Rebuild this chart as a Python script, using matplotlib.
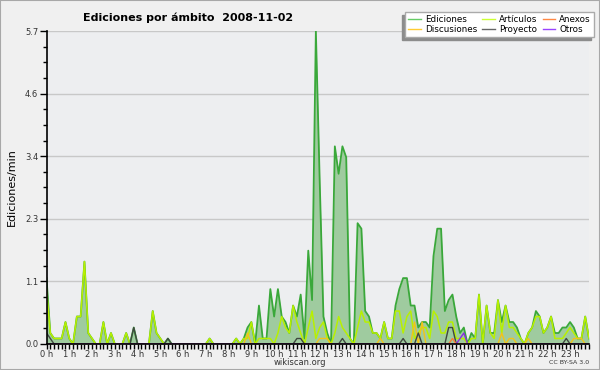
import numpy as np
import matplotlib.pyplot as plt
from matplotlib.lines import Line2D
from matplotlib.patches import Rectangle

# edits per minute, one value every 10 minutes (2 hours per row)
ediciones = [
    1.2, 0.2, 0.1, 0.1, 0.1, 0.4, 0.1, 0.0, 0.5, 0.5, 1.5, 0.2,
    0.1, 0.0, 0.0, 0.4, 0.0, 0.2, 0.0, 0.0, 0.0, 0.2, 0.0, 0.3,
    0.0, 0.0, 0.0, 0.0, 0.6, 0.2, 0.1, 0.0, 0.1, 0.0, 0.0, 0.0,
    0.0, 0.0, 0.0, 0.0, 0.0, 0.0, 0.0, 0.1, 0.0, 0.0, 0.0, 0.0,
    0.0, 0.0, 0.1, 0.0, 0.1, 0.3, 0.4, 0.0, 0.7, 0.1, 0.1, 1.0,
    0.5, 1.0, 0.5, 0.4, 0.2, 0.7, 0.5, 0.9, 0.1, 1.7, 0.8, 5.7,
    3.0, 0.5, 0.2, 0.0, 3.6, 3.1, 3.6, 3.4, 0.1, 0.0, 2.2, 2.1,
    0.6, 0.5, 0.2, 0.2, 0.1, 0.4, 0.1, 0.1, 0.7, 1.0, 1.2, 1.2,
    0.7, 0.7, 0.3, 0.4, 0.4, 0.3, 1.6, 2.1, 2.1, 0.6, 0.8, 0.9,
    0.5, 0.2, 0.3, 0.0, 0.2, 0.1, 0.9, 0.0, 0.7, 0.2, 0.2, 0.8,
    0.4, 0.7, 0.4, 0.4, 0.3, 0.1, 0.0, 0.2, 0.3, 0.6, 0.5, 0.2,
    0.3, 0.5, 0.2, 0.2, 0.3, 0.3, 0.4, 0.3, 0.1, 0.1, 0.5, 0.1,
]
articulos = [
    1.0, 0.2, 0.1, 0.1, 0.1, 0.4, 0.1, 0.0, 0.5, 0.5, 1.5, 0.2,
    0.1, 0.0, 0.0, 0.4, 0.0, 0.2, 0.0, 0.0, 0.0, 0.2, 0.0, 0.0,
    0.0, 0.0, 0.0, 0.0, 0.6, 0.2, 0.1, 0.0, 0.0, 0.0, 0.0, 0.0,
    0.0, 0.0, 0.0, 0.0, 0.0, 0.0, 0.0, 0.1, 0.0, 0.0, 0.0, 0.0,
    0.0, 0.0, 0.1, 0.0, 0.1, 0.1, 0.4, 0.0, 0.1, 0.1, 0.1, 0.1,
    0.0, 0.2, 0.5, 0.3, 0.2, 0.7, 0.4, 0.2, 0.0, 0.3, 0.6, 0.1,
    0.3, 0.4, 0.1, 0.0, 0.2, 0.5, 0.3, 0.2, 0.1, 0.0, 0.3, 0.6,
    0.4, 0.4, 0.2, 0.2, 0.1, 0.4, 0.1, 0.1, 0.6, 0.6, 0.2, 0.5,
    0.6, 0.1, 0.2, 0.3, 0.3, 0.1, 0.6, 0.5, 0.2, 0.2, 0.4, 0.4,
    0.1, 0.1, 0.1, 0.0, 0.1, 0.1, 0.9, 0.0, 0.7, 0.2, 0.1, 0.8,
    0.2, 0.7, 0.3, 0.3, 0.2, 0.1, 0.0, 0.2, 0.3, 0.5, 0.5, 0.2,
    0.3, 0.5, 0.1, 0.1, 0.1, 0.2, 0.3, 0.2, 0.1, 0.1, 0.5, 0.1,
]
discusiones = [
    0.0, 0.0, 0.0, 0.0, 0.0, 0.0, 0.0, 0.0, 0.0, 0.0, 0.0, 0.0,
    0.0, 0.0, 0.0, 0.0, 0.0, 0.0, 0.0, 0.0, 0.0, 0.0, 0.0, 0.0,
    0.0, 0.0, 0.0, 0.0, 0.0, 0.0, 0.0, 0.0, 0.0, 0.0, 0.0, 0.0,
    0.0, 0.0, 0.0, 0.0, 0.0, 0.0, 0.0, 0.0, 0.0, 0.0, 0.0, 0.0,
    0.0, 0.0, 0.0, 0.0, 0.0, 0.2, 0.0, 0.0, 0.0, 0.0, 0.0, 0.0,
    0.0, 0.0, 0.0, 0.0, 0.0, 0.0, 0.0, 0.0, 0.0, 0.0, 0.0, 0.0,
    0.1, 0.1, 0.1, 0.0, 0.0, 0.0, 0.0, 0.0, 0.0, 0.0, 0.0, 0.0,
    0.0, 0.0, 0.0, 0.0, 0.1, 0.0, 0.0, 0.0, 0.0, 0.0, 0.0, 0.0,
    0.0, 0.4, 0.0, 0.4, 0.0, 0.0, 0.0, 0.0, 0.0, 0.0, 0.0, 0.0,
    0.0, 0.0, 0.0, 0.0, 0.0, 0.0, 0.0, 0.0, 0.0, 0.0, 0.0, 0.0,
    0.2, 0.0, 0.1, 0.1, 0.0, 0.0, 0.0, 0.1, 0.0, 0.0, 0.0, 0.0,
    0.0, 0.0, 0.0, 0.0, 0.0, 0.0, 0.0, 0.1, 0.1, 0.1, 0.0, 0.0,
]
proyecto = [
    0.2, 0.1, 0.0, 0.0, 0.0, 0.0, 0.0, 0.0, 0.0, 0.0, 0.0, 0.0,
    0.0, 0.0, 0.0, 0.0, 0.0, 0.0, 0.0, 0.0, 0.0, 0.0, 0.0, 0.3,
    0.0, 0.0, 0.0, 0.0, 0.0, 0.0, 0.0, 0.0, 0.1, 0.0, 0.0, 0.0,
    0.0, 0.0, 0.0, 0.0, 0.0, 0.0, 0.0, 0.0, 0.0, 0.0, 0.0, 0.0,
    0.0, 0.0, 0.0, 0.0, 0.0, 0.0, 0.0, 0.0, 0.0, 0.0, 0.0, 0.0,
    0.0, 0.0, 0.0, 0.0, 0.0, 0.0, 0.1, 0.1, 0.0, 0.0, 0.0, 0.0,
    0.0, 0.0, 0.0, 0.0, 0.0, 0.0, 0.1, 0.0, 0.0, 0.0, 0.0, 0.0,
    0.0, 0.0, 0.0, 0.0, 0.0, 0.0, 0.0, 0.0, 0.0, 0.0, 0.1, 0.0,
    0.0, 0.0, 0.2, 0.0, 0.0, 0.0, 0.0, 0.0, 0.0, 0.0, 0.3, 0.3,
    0.0, 0.0, 0.0, 0.0, 0.0, 0.0, 0.0, 0.0, 0.0, 0.0, 0.0, 0.0,
    0.0, 0.0, 0.0, 0.0, 0.0, 0.0, 0.0, 0.0, 0.0, 0.0, 0.0, 0.0,
    0.0, 0.0, 0.0, 0.0, 0.0, 0.1, 0.0, 0.0, 0.0, 0.0, 0.0, 0.0,
]
anexos = [0.0] * 144
anexos[107] = 0.1
otros = [0.0] * 144
otros[109] = 0.1
otros[110] = 0.2

hour_labels = [f"{h} h" for h in range(24)]
ytick_vals = [0.0, 1.14, 2.28, 3.42, 4.56, 5.7]
ytick_labels = ["0.0", "1.1", "2.3", "3.4", "4.6", "5.7"]

x = np.arange(len(ediciones))

fig = plt.figure(figsize=(6, 3.7), dpi=100, facecolor="#f0f0f0")
fig.patches.append(Rectangle((0, 0), 1, 1, transform=fig.transFigure,
                             fill=False, edgecolor="#a8a8a8", lw=1.5))
ax = fig.add_axes([0.0775, 0.0703, 0.9042, 0.8459])
ax.set_facecolor("#edeef0")

ax.fill_between(x, ediciones, color="#9fcb9f", lw=0, zorder=2)
ax.plot(x, ediciones, color="#3aa83a", lw=1.3, zorder=3)
ax.plot(x, articulos, color="#b8f000", lw=1.1, zorder=4)
ax.plot(x, discusiones, color="#f2c418", lw=1, zorder=5)
ax.plot(x, proyecto, color="#404840", lw=1, zorder=6)
ax.plot(x, anexos, color="#ff7a33", lw=1, zorder=7)
ax.plot(x, otros, color="#8a2be2", lw=1, zorder=8)

ax.set_xlim(0, len(ediciones) - 1)
ax.set_ylim(0, 5.7)
ax.set_xticks(np.arange(0, 144, 6))
ax.set_xticklabels(hour_labels)
ax.set_xticks(np.arange(0, 144, 1), minor=True)
ax.set_yticks(ytick_vals)
ax.set_yticklabels(ytick_labels)
ax.set_yticks(np.arange(0, 5.71, 0.285), minor=True)
ax.tick_params(axis="both", which="both", direction="out", color="black",
               labelsize=6, labelcolor="#333333", width=1)
ax.tick_params(axis="x", which="both", length=3.5, pad=0.5)
ax.tick_params(axis="y", which="major", length=5, pad=1)
ax.tick_params(axis="y", which="minor", length=3)
for s in ["top", "right"]:
    ax.spines[s].set_visible(False)
for s in ["left", "bottom"]:
    ax.spines[s].set_linewidth(1.2)
    ax.spines[s].set_zorder(10)
for v in ytick_vals[1:]:
    ax.axhline(v, color="#c8c8c8", lw=1, zorder=1)

ax.set_ylabel("Ediciones/min", fontsize=8, labelpad=6)
fig.text(0.313, 0.952, "Ediciones por ámbito  2008-11-02", ha="center",
         va="center", fontsize=8, fontweight="bold")
fig.text(0.5, 0.021, "wikiscan.org", ha="center", va="center", fontsize=6,
         color="#333333")
fig.text(0.982, 0.02, "CC BY-SA 3.0", ha="right", va="center", fontsize=4.5,
         color="#333333")

handles = [
    Line2D([], [], color="#66cc66", lw=1),
    Line2D([], [], color="#ffcc33", lw=1),
    Line2D([], [], color="#ccff33", lw=1),
    Line2D([], [], color="#666666", lw=1),
    Line2D([], [], color="#ff8844", lw=1),
    Line2D([], [], color="#9944ff", lw=1),
]
labels = ["Ediciones", "Discusiones", "Artículos", "Proyecto", "Anexos", "Otros"]
leg = fig.legend(handles, labels, ncol=3, loc="upper right",
                 bbox_to_anchor=(594 / 600, 1 - 12 / 370), fontsize=6.3,
                 frameon=True, fancybox=False, borderaxespad=0,
                 handlelength=1.4, handletextpad=0.5, columnspacing=0.6,
                 labelspacing=0.15, borderpad=0.35)
leg.get_frame().set_edgecolor("#aaaaaa")
leg.get_frame().set_linewidth(1)
leg.get_frame().set_facecolor("white")
leg.get_frame().set_alpha(1)
leg.set_zorder(6)

fig.canvas.draw()
bb = leg.get_window_extent().transformed(fig.transFigure.inverted())
fig.patches.append(Rectangle((bb.x0 - 3 / 600, bb.y0 - 3 / 370), bb.width, bb.height,
                             transform=fig.transFigure, color="#8c8c8c", zorder=5))

fig.savefig("out.png", dpi=100, facecolor=fig.get_facecolor())
